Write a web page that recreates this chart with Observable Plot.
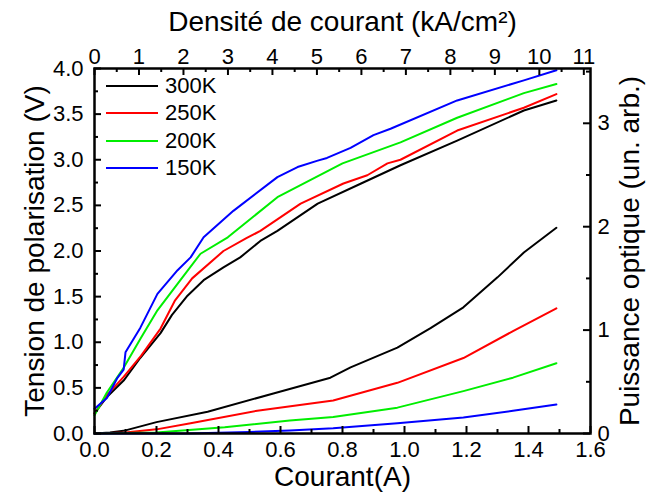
<!DOCTYPE html>
<html>
<head>
<meta charset="utf-8">
<script src="https://cdn.jsdelivr.net/npm/d3@7"></script>
<script src="https://cdn.jsdelivr.net/npm/@observablehq/plot@0.6"></script>
<style>
  html, body { margin: 0; padding: 0; background: #fff; }
  #chart { position: relative; width: 648px; height: 497px; font-family: "Liberation Sans", Arial, sans-serif; }
  #legend { position: absolute; left: 106px; top: 72px; font-size: 22px; color: #000; }
  #legend .row { display: flex; align-items: center; height: 27.5px; }
  #legend .sw { width: 52px; height: 0; border-top: 2.5px solid; margin-right: 7px; }
</style>
</head>
<body>
<div id="chart"></div>
<script>
// ---- data ----
const seriesNames = ["300K", "250K", "200K", "150K"];
const seriesColors = ["#000000", "#ff0000", "#00ee00", "#0000ff"];

// Voltage (V) vs current (A)
const iV300 = [0, 0.04, 0.094, 0.148, 0.213, 0.25, 0.30, 0.352, 0.416, 0.47, 0.535, 0.59, 0.72, 0.86, 0.987, 1.17, 1.385, 1.49];
const vV300 = [0.22, 0.40, 0.58, 0.83, 1.10, 1.30, 1.51, 1.68, 1.82, 1.93, 2.11, 2.22, 2.52, 2.74, 2.94, 3.21, 3.54, 3.65];
const iV250 = [0, 0.04, 0.094, 0.15, 0.213, 0.26, 0.315, 0.416, 0.49, 0.535, 0.665, 0.803, 0.88, 0.945, 0.987, 1.17, 1.385, 1.49];
const vV250 = [0.22, 0.42, 0.62, 0.85, 1.15, 1.46, 1.70, 2.0, 2.14, 2.22, 2.52, 2.74, 2.83, 2.96, 3.0, 3.32, 3.57, 3.72];
const iV200 = [0, 0.04, 0.094, 0.15, 0.203, 0.277, 0.342, 0.43, 0.59, 0.80, 0.987, 1.17, 1.385, 1.49];
const vV200 = [0.20, 0.45, 0.72, 1.05, 1.35, 1.68, 1.97, 2.15, 2.59, 2.96, 3.19, 3.46, 3.73, 3.83];
const iV150 = [0, 0.04, 0.074, 0.094, 0.10, 0.148, 0.203, 0.268, 0.31, 0.352, 0.448, 0.59, 0.655, 0.72, 0.75, 0.826, 0.9, 0.955, 1.17, 1.385, 1.49];
const vV150 = [0.27, 0.39, 0.61, 0.70, 0.89, 1.16, 1.53, 1.79, 1.93, 2.15, 2.44, 2.81, 2.92, 2.99, 3.02, 3.13, 3.27, 3.34, 3.65, 3.87, 3.98];

// Optical power (arb. units) vs current (A)
const iP300 = [0, 0.05, 0.1, 0.2, 0.365, 0.58, 0.761, 0.826, 0.977, 1.084, 1.19, 1.30, 1.385, 1.49];
const pP300 = [0, 0.01, 0.03, 0.11, 0.21, 0.39, 0.54, 0.64, 0.83, 1.02, 1.22, 1.51, 1.75, 1.99];
const iP250 = [0, 0.1, 0.2, 0.31, 0.525, 0.77, 0.977, 1.19, 1.35, 1.49];
const pP250 = [0, 0.01, 0.04, 0.10, 0.22, 0.32, 0.49, 0.73, 0.99, 1.21];
const iP200 = [0, 0.2, 0.42, 0.63, 0.77, 0.977, 1.19, 1.35, 1.49];
const pP200 = [0, 0.01, 0.06, 0.125, 0.16, 0.25, 0.41, 0.54, 0.68];
const iP150 = [0, 0.3, 0.5, 0.63, 0.77, 0.977, 1.19, 1.35, 1.49];
const pP150 = [0, 0.0, 0.015, 0.03, 0.05, 0.10, 0.155, 0.22, 0.28];

// Axes
const xMajor = [0, 0.2, 0.4, 0.6, 0.8, 1.0, 1.2, 1.4, 1.6];
const xMinor = [0.1, 0.3, 0.5, 0.7, 0.9, 1.1, 1.3, 1.5];
const yMajor = [0, 0.5, 1.0, 1.5, 2.0, 2.5, 3.0, 3.5, 4.0];
const yMinor = [0.25, 0.75, 1.25, 1.75, 2.25, 2.75, 3.25, 3.75];
const jMajor = [0, 1, 2, 3, 4, 5, 6, 7, 8, 9, 10, 11];       // kA/cm²
const jMinor = [0.5, 1.5, 2.5, 3.5, 4.5, 5.5, 6.5, 7.5, 8.5, 9.5, 10.5];
const pMajor = [0, 1, 2, 3];
const pMinor = [0.5, 1.5, 2.5, 3.5];
const xMax = 1.6;
const jPerAmp = 11.15 / xMax;    // top axis: current density per ampere
const pMax = 3.53;               // right axis value at top of frame
const vMax = 4.0;
const pToV = vMax / pMax;

// ---- layout ----
const W = 648, H = 497, mL = 94, mR = 58, mT = 68, mB = 64;
const pxPerA = (W - mL - mR) / xMax;
const pxPerV = (H - mT - mB) / vMax;
const majLen = 7, minLen = 4;

// ---- build tables ----
const vSets = [[iV300, vV300], [iV250, vV250], [iV200, vV200], [iV150, vV150]];
const pSets = [[iP300, pP300], [iP250, pP250], [iP200, pP200], [iP150, pP150]];
const vData = vSets.flatMap(([xs, ys], k) => xs.map((x, i) => ({x, y: ys[i], s: seriesNames[k]})));
const pData = pSets.flatMap(([xs, ys], k) => xs.map((x, i) => ({x, y: ys[i] * pToV, s: seriesNames[k]})));

const font = "Liberation Sans, Arial, sans-serif";
const tickFont = 22;
const titleFont = 28;

// inward tick marks, drawn as rules through the plot's scales
const tickRulesX = (vals, len, atTop) => Plot.ruleX(vals, {
  x: d => d,
  y1: atTop ? vMax : 0,
  y2: atTop ? vMax - len / pxPerV : len / pxPerV,
  stroke: "#000", strokeWidth: 2
});
const tickRulesY = (vals, len, atRight) => Plot.ruleY(vals, {
  y: d => d,
  x1: atRight ? xMax : 0,
  x2: atRight ? xMax - len / pxPerA : len / pxPerA,
  stroke: "#000", strokeWidth: 2
});

const chart = Plot.plot({
  width: W,
  height: H,
  marginLeft: mL,
  marginRight: mR,
  marginTop: mT,
  marginBottom: mB,
  style: {fontFamily: font, color: "#000", background: "#fff"},
  x: {domain: [0, xMax]},
  y: {domain: [0, vMax]},
  color: {domain: seriesNames, range: seriesColors},
  marks: [
    Plot.line(pData, {x: "x", y: "y", z: "s", stroke: "s", strokeWidth: 2}),
    Plot.line(vData, {x: "x", y: "y", z: "s", stroke: "s", strokeWidth: 2}),
    // tick labels
    Plot.axisX({anchor: "bottom", ticks: xMajor, tickSize: 0, tickPadding: 8, tickFormat: d3.format(".1f"), fontSize: tickFont, label: null}),
    Plot.axisX({anchor: "top", ticks: jMajor.map(j => j / jPerAmp), tickSize: 0, tickPadding: 5, tickFormat: d => String(Math.round(d * jPerAmp)), fontSize: tickFont, label: null}),
    Plot.axisY({anchor: "left", ticks: yMajor, tickSize: 0, tickPadding: 11, tickFormat: d3.format(".1f"), fontSize: tickFont, label: null}),
    Plot.axisY({anchor: "right", ticks: pMajor.map(p => p * pToV), tickSize: 0, tickPadding: 7, tickFormat: d => String(Math.round(d / pToV)), fontSize: tickFont, label: null}),
    // inward tick marks
    tickRulesX(xMajor, majLen, false),
    tickRulesX(xMinor, minLen, false),
    tickRulesX(jMajor.map(j => j / jPerAmp), majLen, true),
    tickRulesX(jMinor.map(j => j / jPerAmp), minLen, true),
    tickRulesY(yMajor, majLen, false),
    tickRulesY(yMinor, minLen, false),
    tickRulesY(pMajor.map(p => p * pToV), majLen, true),
    tickRulesY(pMinor.map(p => p * pToV), minLen, true),
    Plot.frame({stroke: "#000", strokeWidth: 2.5}),
    // titles
    Plot.text(["Courant(A)"], {frameAnchor: "bottom", dy: 52, fontSize: titleFont}),
    Plot.text(["Densité de courant (kA/cm²)"], {frameAnchor: "top", dy: -57, fontSize: titleFont}),
    Plot.text(["Tension de polarisation (V)"], {frameAnchor: "left", dx: -59, rotate: -90, textAnchor: "middle", fontSize: titleFont}),
    Plot.text(["Puissance optique (un. arb.)"], {frameAnchor: "right", dx: 40, rotate: -90, textAnchor: "middle", fontSize: titleFont})
  ]
});

const root = document.getElementById("chart");
root.appendChild(chart);

// legend
const legend = document.createElement("div");
legend.id = "legend";
seriesNames.forEach((name, k) => {
  const row = document.createElement("div");
  row.className = "row";
  const sw = document.createElement("span");
  sw.className = "sw";
  sw.style.borderTopColor = seriesColors[k];
  const label = document.createElement("span");
  label.textContent = name;
  row.appendChild(sw);
  row.appendChild(label);
  legend.appendChild(row);
});
root.appendChild(legend);
</script>
</body>
</html>
